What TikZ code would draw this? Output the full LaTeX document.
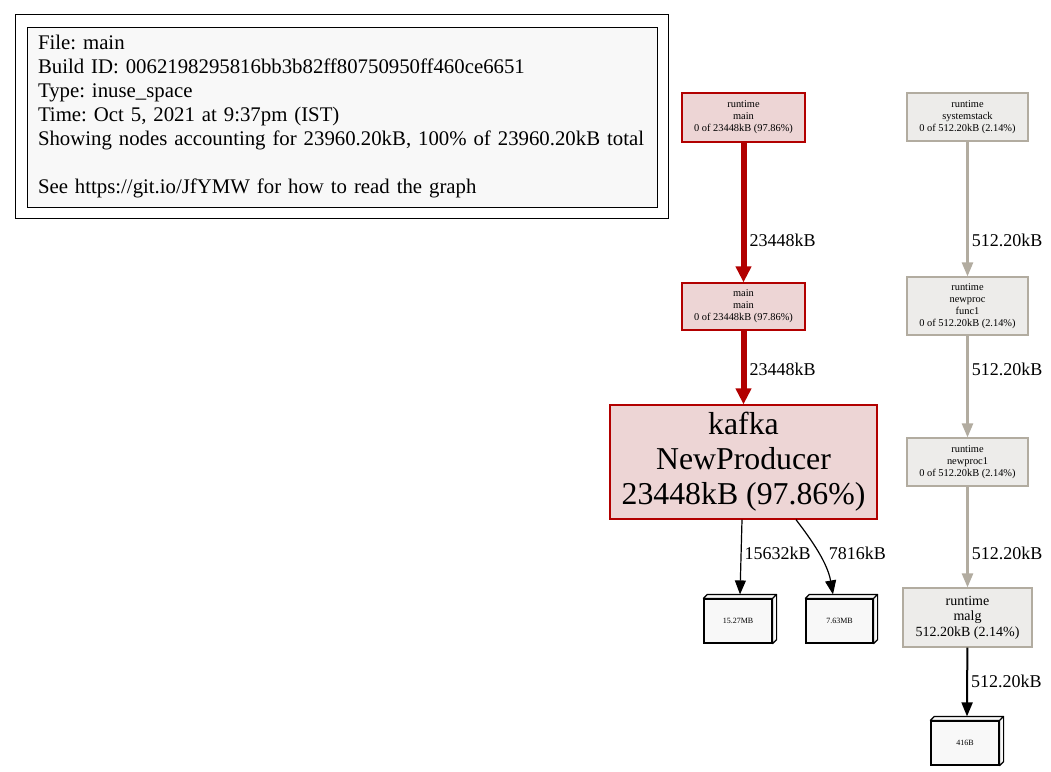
\documentclass[tikz,border=0pt]{standalone}
\usepackage{fontspec}
\setmainfont{Liberation Serif}
\usetikzlibrary{arrows.meta}
\definecolor{dred}{HTML}{B20000}
\definecolor{pred}{HTML}{EDD5D5}
\definecolor{dgray}{HTML}{B2ACA0}
\definecolor{pgray}{HTML}{EDECEA}
\definecolor{lgray}{HTML}{F8F8F8}
\frenchspacing
\tikzset{
  hot/.style={draw=dred,fill=pred,line width=1.2pt,align=center,inner sep=0pt},
  cold/.style={draw=dgray,fill=pgray,line width=1.2pt,align=center,inner sep=0pt},
  fsmall/.style={font=\fontsize{10.4}{12}\selectfont},
  cube/.style={draw,fill=lgray,line width=1.2pt,minimum width=68pt,minimum height=44pt,inner sep=0pt,font=\fontsize{8}{10}\selectfont},
  lab/.style={right,text=black,inner sep=3pt,font=\fontsize{18}{18}\selectfont},
  redge/.style={dred,line width=6pt,-{Triangle[length=16pt,width=15pt]}},
  gedge/.style={dgray,line width=2.5pt,-{Triangle[length=14pt,width=11pt]}},
  bedge/.style={line width=2pt,-{Triangle[length=14pt,width=11pt]}},
  tedge/.style={line width=1.2pt,-{Triangle[length=14pt,width=11pt]}},
  legend/.style={draw,fill=lgray,line width=1pt,minimum width=630pt,minimum height=180pt,text width=608pt,align=left,inner xsep=11pt,font=\fontsize{20.8}{24}\selectfont}
}
\begin{document}
\begin{tikzpicture}[x=1pt,y=-1pt]
\useasboundingbox (0,0) rectangle (1051,771);
\node[legend] (leg) at (342,117) {File: main\\Build ID: 0062198295816bb3b82ff80750950ff460ce6651\\Type: inuse\_space\\Time: Oct 5, 2021 at 9:37pm (IST)\\Showing nodes accounting for 23960.20kB, 100\% of 23960.20kB total\\[24pt]See https://git.io/JfYMW for how to read the graph};
\draw[line width=1pt]([shift={(-11,-12)}]leg.north west) rectangle ([shift={(11,11)}]leg.south east);
% hot path
\node[hot,fsmall,minimum width=123pt,minimum height=49pt] (rmain) at (743.5,117.5) {runtime\\main\\0 of 23448kB (97.86\%)};
\node[hot,fsmall,minimum width=123pt,minimum height=47pt] (mmain) at (743.5,306.5) {main\\main\\0 of 23448kB (97.86\%)};
\node[hot,minimum width=267pt,minimum height=114pt,font=\fontsize{31.8}{35}\selectfont] (kafka) at (743.5,462) {kafka\\NewProducer\\23448kB (97.86\%)};
% cold path
\node[cold,fsmall,minimum width=121pt,minimum height=48pt] (sstack) at (967.5,117) {runtime\\systemstack\\0 of 512.20kB (2.14\%)};
\node[cold,fsmall,minimum width=121pt,minimum height=58pt] (func1) at (967.5,306) {runtime\\newproc\\func1\\0 of 512.20kB (2.14\%)};
\node[cold,fsmall,minimum width=121pt,minimum height=48pt] (nproc1) at (967.5,462) {runtime\\newproc1\\0 of 512.20kB (2.14\%)};
\node[cold,minimum width=129pt,minimum height=59pt,font=\fontsize{14}{15.5}\selectfont] (malg) at (967.5,617.5) {runtime\\malg\\512.20kB (2.14\%)};
% boxes
\node[cube] (b1) at (738,621) {15.27MB};
\node[cube,minimum width=67pt] (b2) at (839.5,621) {7.63MB};
\node[cube] (b3) at (965,743) {416B};
\foreach \b in {b1,b2,b3}
  \draw[line width=1.2pt,fill=lgray,line join=round](\b.north west) -- ++(4,-4) -- ([shift={(4,-4)}]\b.north east) -- ([shift={(4,-4)}]\b.south east) -- (\b.south east) -- (\b.north east) -- cycle (\b.north east) -- ++(4,-4);
% edges
\draw[redge](rmain) -- node[lab,pos=0.7]{23448kB} (mmain);
\draw[redge](mmain) -- node[lab,pos=0.52]{23448kB} (kafka);
\draw[gedge](sstack) -- node[lab,pos=0.73]{512.20kB} (func1);
\draw[gedge](func1) -- node[lab,pos=0.33]{512.20kB} (nproc1);
\draw[gedge](nproc1) -- node[lab,pos=0.66]{512.20kB} (malg);
\draw[bedge](malg) -- node[lab,pos=0.49]{512.20kB} ([shift={(2,-4)}]b3.north);
\draw[tedge]([shift={(-1.5,0)}]kafka.south) -- node[lab,pos=0.45]{15632kB} ([shift={(2,-4)}]b1.north);
\draw[tedge]([shift={(52.5,0)}]kafka.south) .. controls (806,533) and (827,560) .. node[lab,pos=0.55,xshift=7pt]{7816kB} ([shift={(-6.5,-4)}]b2.north);
\end{tikzpicture}
\end{document}
